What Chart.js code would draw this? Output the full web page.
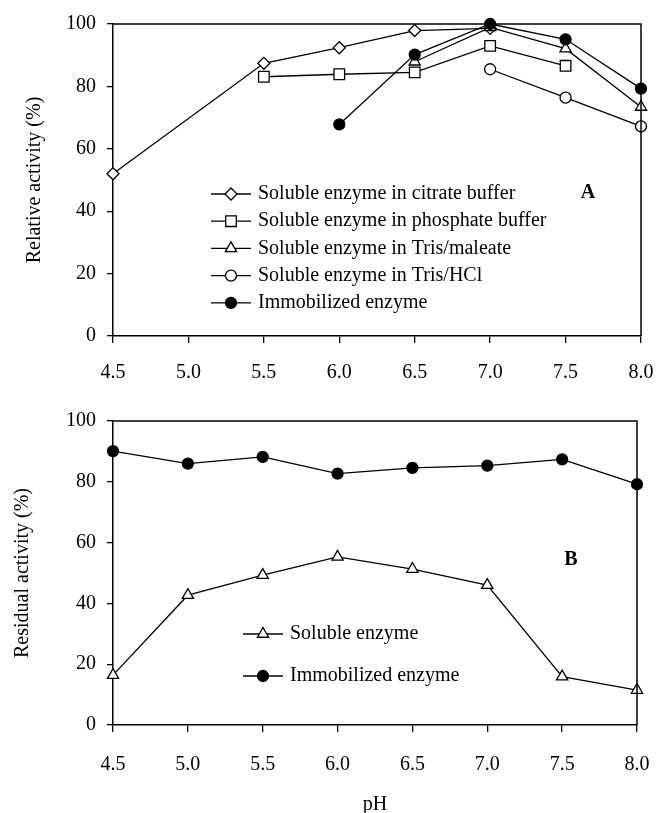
<!DOCTYPE html>
<html>
<head>
<meta charset="utf-8">
<script src="https://cdn.jsdelivr.net/npm/chart.js@4/dist/chart.umd.min.js"></script>
<style>
  html, body { margin: 0; padding: 0; background: #fff; }
  #wrap { position: relative; width: 656px; height: 813px; background: #fff; }
  canvas { position: absolute; left: 0; }
  #cA { top: 0; }
  #cB { top: 390px; }
</style>
</head>
<body>
<div id="wrap">
  <canvas id="cA" width="656" height="390"></canvas>
  <canvas id="cB" width="656" height="423"></canvas>
</div>
<script>
// ---------- DATA ----------
const pHLabels = ['4.5', '5.0', '5.5', '6.0', '6.5', '7.0', '7.5', '8.0'];
const yTicks = [0, 20, 40, 60, 80, 100];

// Panel A: relative activity (%)
const citrateA   = [52.0, null, 87.4, 92.4, 97.9, 98.6, null, null];
const phosphateA = [null, null, 83.1, 83.9, 84.5, 93.0, 86.6, null];
const trisMalA   = [null, null, null, null, 87.9, 98.9, 92.1, 73.4];
const trisHClA   = [null, null, null, null, null, 85.5, 76.4, 67.2];
const immobA     = [null, null, null, 67.8, 90.2, 100.0, 95.1, 79.3];
const seriesNamesA = [
  'Soluble enzyme in citrate buffer',
  'Soluble enzyme in phosphate buffer',
  'Soluble enzyme in Tris/maleate',
  'Soluble enzyme in Tris/HCl',
  'Immobilized enzyme'
];

// Panel B: residual activity (%)
const solubleB = [16.4, 42.7, 49.3, 55.3, 51.3, 46.0, 15.9, 11.5];
const immobB   = [90.1, 86.0, 88.2, 82.7, 84.6, 85.3, 87.4, 79.2];
const seriesNamesB = ['Soluble enzyme', 'Immobilized enzyme'];

const yTitleA = 'Relative activity (%)';
const yTitleB = 'Residual activity (%)';
const xTitleB = 'pH';

// ---------- STYLE ----------
const FONT = 'Liberation Serif, Times New Roman, serif';
Chart.defaults.font.family = FONT;
Chart.defaults.color = '#000';

function fallbackDrawPoint(ctx, o, x, y) {
  const r = o.radius;
  ctx.beginPath();
  switch (o.pointStyle) {
    case 'rectRot':
      ctx.moveTo(x - r, y); ctx.lineTo(x, y - r); ctx.lineTo(x + r, y); ctx.lineTo(x, y + r); ctx.closePath(); break;
    case 'rect': {
      const s = Math.SQRT1_2 * r; ctx.rect(x - s, y - s, 2 * s, 2 * s); break;
    }
    case 'triangle': {
      let a = 0;
      ctx.moveTo(x + Math.sin(a) * r, y - Math.cos(a) * r);
      a += 2 * Math.PI / 3; ctx.lineTo(x + Math.sin(a) * r, y - Math.cos(a) * r);
      a += 2 * Math.PI / 3; ctx.lineTo(x + Math.sin(a) * r, y - Math.cos(a) * r);
      ctx.closePath(); break;
    }
    default:
      ctx.arc(x, y, r, 0, Math.PI * 2); ctx.closePath();
  }
  ctx.fill();
  if (o.borderWidth > 0) ctx.stroke();
}
function drawPt(ctx, o, x, y) {
  if (Chart.helpers && Chart.helpers.drawPoint) Chart.helpers.drawPoint(ctx, o, x, y);
  else fallbackDrawPoint(ctx, o, x, y);
}

// frame + inner legend + panel letter
const framePlugin = {
  id: 'frameLegend',
  afterDraw(chart, args, opts) {
    const { ctx, chartArea: ca } = chart;
    ctx.save();
    ctx.strokeStyle = '#000';
    ctx.lineWidth = 1.5;
    ctx.beginPath();
    ctx.moveTo(ca.left, ca.top); ctx.lineTo(ca.right, ca.top); ctx.lineTo(ca.right, ca.bottom);
    ctx.stroke();

    // legend
    const lg = opts.legend;
    chart.data.datasets.forEach((ds, i) => {
      const y = lg.y + i * lg.dy;
      ctx.strokeStyle = '#000';
      ctx.lineWidth = 1.3;
      ctx.beginPath();
      ctx.moveTo(lg.x1, y); ctx.lineTo(lg.x2, y);
      ctx.stroke();
      ctx.fillStyle = ds.pointBackgroundColor;
      ctx.strokeStyle = '#000';
      ctx.lineWidth = ds.pointBorderWidth;
      drawPt(ctx, { pointStyle: ds.pointStyle, radius: ds.pointRadius, rotation: 0, borderWidth: ds.pointBorderWidth }, (lg.x1 + lg.x2) / 2, y);
      ctx.fillStyle = '#000';
      ctx.font = '20px ' + FONT;
      ctx.textAlign = 'left';
      ctx.textBaseline = 'middle';
      ctx.fillText(ds.label, lg.tx, y);
    });

    ctx.font = 'bold 20px ' + FONT;
    ctx.textAlign = 'center';
    ctx.textBaseline = 'middle';
    ctx.fillStyle = '#000';
    ctx.fillText(opts.letter.text, opts.letter.x, opts.letter.y);
    ctx.restore();
  }
};

function mkDs(label, data, style, radius, fill, order) {
  return {
    label, data,
    borderColor: '#000', borderWidth: 1.3,
    pointStyle: style, pointRadius: radius, pointHoverRadius: radius,
    pointBackgroundColor: fill, pointBorderColor: '#000', pointBorderWidth: 1.3,
    spanGaps: true, tension: 0, clip: false, fill: false, order
  };
}

function axes(yTitle, yTitlePad, yWidth, xHeight, xTitle, xTickPad) {
  return {
    x: {
      type: 'category',
      offset: false,
      grid: { display: true, drawOnChartArea: false, drawTicks: true, tickLength: 7, color: '#000', lineWidth: 1.3 },
      border: { display: true, color: '#000', width: 1.5 },
      ticks: { font: { size: 20, family: FONT }, color: '#000', padding: xTickPad, maxRotation: 0, autoSkip: false },
      title: xTitle ? { display: true, text: xTitle, font: { size: 20, family: FONT, lineHeight: 0.8 }, color: '#000', padding: 0 } : { display: false },
      afterFit(s) { s.height = xHeight; s.paddingLeft = 0; s.paddingRight = 0; }
    },
    y: {
      min: 0, max: 100,
      afterBuildTicks(s) { s.ticks = yTicks.map(v => ({ value: v })); },
      grid: { display: true, drawOnChartArea: false, drawTicks: true, tickLength: 6, color: '#000', lineWidth: 1.3 },
      border: { display: true, color: '#000', width: 1.5 },
      ticks: { font: { size: 20, family: FONT }, color: '#000', padding: 11 },
      title: { display: true, text: yTitle, font: { size: 20, family: FONT }, color: '#000', padding: { top: yTitlePad, bottom: 0 } },
      afterFit(s) { s.width = yWidth; s.paddingTop = 0; s.paddingBottom = 0; }
    }
  };
}

const common = {
  responsive: false,
  animation: false,
  devicePixelRatio: 1,
  events: [],
  plugins: { legend: { display: false }, tooltip: { enabled: false } }
};

// Panel A
new Chart(document.getElementById('cA'), {
  type: 'line',
  data: {
    labels: pHLabels,
    datasets: [
      mkDs(seriesNamesA[0], citrateA, 'rectRot', 6, '#fff', 4),
      mkDs(seriesNamesA[1], phosphateA, 'rect', 7.5, '#fff', 3),
      mkDs(seriesNamesA[2], trisMalA, 'triangle', 6.5, '#fff', 2),
      mkDs(seriesNamesA[3], trisHClA, 'circle', 5.5, '#fff', 1),
      mkDs(seriesNamesA[4], immobA, 'circle', 5.5, '#000', 0)
    ]
  },
  options: Object.assign({}, common, {
    layout: { padding: { left: 0, right: 15, top: 24, bottom: 0 } },
    scales: axes(yTitleA, 23, 113, 54, null, 18),
    plugins: Object.assign({}, common.plugins, {
      frameLegend: { legend: { x1: 211, x2: 251, tx: 258, y: 194, dy: 27.2 }, letter: { text: 'A', x: 588, y: 193 } }
    })
  }),
  plugins: [framePlugin]
});

// Panel B
new Chart(document.getElementById('cB'), {
  type: 'line',
  data: {
    labels: pHLabels,
    datasets: [
      mkDs(seriesNamesB[0], solubleB, 'triangle', 6.5, '#fff', 1),
      mkDs(seriesNamesB[1], immobB, 'circle', 5.5, '#000', 0)
    ]
  },
  options: Object.assign({}, common, {
    layout: { padding: { left: 0, right: 19, top: 31, bottom: 0 } },
    scales: axes(yTitleB, 11, 113, 88, xTitleB, 21),
    plugins: Object.assign({}, common.plugins, {
      frameLegend: { legend: { x1: 243, x2: 283, tx: 290, y: 244, dy: 42 }, letter: { text: 'B', x: 571, y: 170 } }
    })
  }),
  plugins: [framePlugin]
});
</script>
</body>
</html>
